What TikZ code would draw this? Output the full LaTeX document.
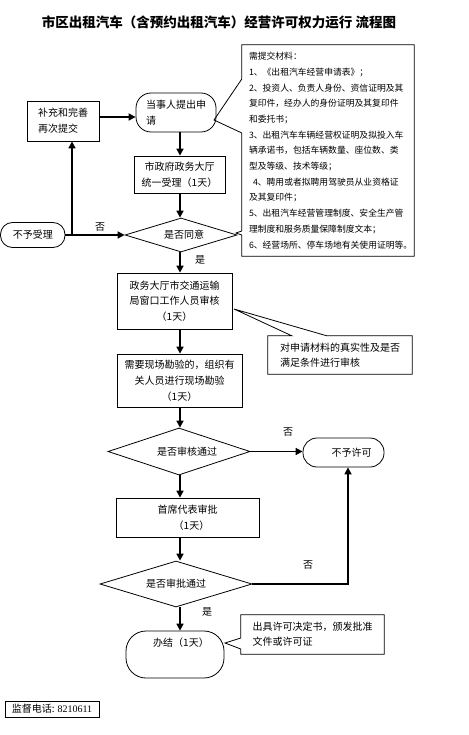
\documentclass[tikz,border=0pt]{standalone}
\usepackage{fontspec}
\newfontfamily\cjk{Noto Sans CJK SC}
\newfontfamily\tnr{Liberation Serif}
\usetikzlibrary{shapes.geometric,arrows.meta}
\newcommand{\zbox}[1]{\smash{\raisebox{-3.6pt}{\makebox[0pt]{#1}}}}
\begin{document}
\begin{tikzpicture}[x=1pt,y=-1pt,
  every node/.style={font=\cjk\fontsize{10}{16}\selectfont, inner sep=0pt},
  thinline/.style={line width=0.8pt},
  proc/.style={draw, thinline, rectangle, align=center},
  term/.style={draw, thinline, rectangle, rounded corners=13pt, align=center},
  decision/.style={draw, thinline, diamond, inner sep=0pt},
  callout/.style={rectangle, align=left},
  arr/.style={line width=1.6pt, -{Triangle[length=7pt,width=7pt]}},
  lbl/.style={font=\cjk\fontsize{10}{12}\selectfont}
]
\useasboundingbox (0,0) rectangle (468,735);
\coordinate (col) at (180,0);

% title
\node[font=\cjk\bfseries\fontsize{13.5}{16}\selectfont] (title) at (219,22)
  {市区出租汽车（含预约出租汽车）经营许可权力运行 流程图};

% main flow
\node[term, minimum width=80pt, minimum height=39pt, rounded corners=15pt] (apply) at (176,112.5) {当事人提出申\\请\hspace*{50pt}};
\node[proc, minimum width=72pt, minimum height=40pt] (supp) at (63,121) {补充和完善\\再次提交\hspace*{10pt}};
\node[proc, minimum width=91pt, minimum height=37pt] (accept) at (179.5,174.5) {市政府政务大厅\\统一受理（1天）};
\node[decision, minimum width=112pt, minimum height=34pt] (d1) at (181,235) {\zbox{\hspace*{6pt}是否同意}};
\node[term, minimum width=64.5pt, minimum height=25pt, rounded corners=12pt] (reject1) at (32.75,235) {不予受理};
\node[proc, minimum width=115pt, minimum height=56pt, font=\cjk\fontsize{10}{15.5}\selectfont] (review) at (174.5,301) {政务大厅市交通运输\\局窗口工作人员审核\\（1天）};
\node[proc, minimum width=125pt, minimum height=53pt] (site) at (179.5,380.5) {需要现场勘验的，组织有\\关人员进行现场勘验\hspace*{10pt}\\（1天）};
\node[decision, minimum width=142pt, minimum height=47pt] (d2) at (179,451.5) {\zbox{\hspace*{16pt}是否审核通过}};
\node[term, minimum width=81pt, minimum height=29pt, rounded corners=14pt] (deny) at (343.5,452.5) {\hspace*{16pt}不予许可};
\node[proc, minimum width=143pt, minimum height=39pt] (chief) at (187.5,517.5) {首席代表审批\\\hspace*{8pt}（1天）};
\node[decision, minimum width=152pt, minimum height=46pt] (d3) at (176,584) {\zbox{是否审批通过}};
\node[term, minimum width=98pt, minimum height=47pt, rounded corners=20pt] (done) at (175,654.5) {\hspace*{12pt}办结（1天）\\[8pt]};
\node[proc, minimum width=94pt, minimum height=16pt] (phone) at (52,709) {监督电话: {\tnr 8210611}};

% callouts
\node[callout, text width=158pt, minimum width=172pt, minimum height=211pt,
      font=\cjk\fontsize{8.8}{15.7}\selectfont] (note1) at (328,150.5) {%
需提交材料：\\
1、《出租汽车经营申请表》；\\
2、投资人、负责人身份、资信证明及其\\
复印件，经办人的身份证明及其复印件\\
和委托书；\\
3、出租汽车车辆经营权证明及拟投入车\\
辆承诺书，包括车辆数量、座位数、类\\
型及等级、技术等级；\\
\hspace*{4pt}4、聘用或者拟聘用驾驶员从业资格证\\
及其复印件；\\
5、出租汽车经营管理制度、安全生产管\\
理制度和服务质量保障制度文本；\\
6、经营场所、停车场地有关使用证明等。};
\node[callout, text width=120pt, minimum width=144pt, minimum height=38pt, font=\cjk\fontsize{10}{15}\selectfont] (note2) at (340,355) {对申请材料的真实性及是否\\满足条件进行审核};
\node[callout, text width=120pt, minimum width=143pt, minimum height=39pt, font=\cjk\fontsize{10}{15}\selectfont] (note3) at (312.5,634.5) {出具许可决定书，颁发批准\\文件或许可证};

\coordinate (p1) at (214,120);
\coordinate (p1b) at (236,233);
\coordinate (p2) at (234,309);
\coordinate (p3) at (225,643);

\draw[thinline] (note1.north west) -- (note1.north east) -- (note1.south east) -- (note1.south west)
  -- ([yshift=-84.5pt]note1.west) -- (p1b) -- ([yshift=-80.5pt]note1.west)
  -- ([yshift=17.5pt]note1.west) -- (p1) -- ([yshift=71.5pt]note1.west) -- cycle;
\draw[thinline] (note2.north west) -- ([xshift=24pt]note2.north west) -- (p2)
  -- ([xshift=59pt]note2.north west) -- (note2.north east) -- (note2.south east)
  -- (note2.south west) -- cycle;
\draw[thinline] (note3.north west) -- (note3.north east) -- (note3.south east) -- (note3.south west)
  -- ([yshift=-14.5pt]note3.west) -- (p3) -- ([yshift=-3.5pt]note3.west) -- cycle;

% connectors
\coordinate (a1) at ([yshift=4pt]supp.east);
\draw[arr] (a1) -- (a1 -| apply.west);
\draw[arr] (apply.south -| col) -- (accept.north -| col);
\draw[arr] (accept.south -| col) -- (d1.north -| col);
\draw[arr] (reject1.east) -- (reject1.east -| d1.west);
\coordinate (j1) at (72,235);
\draw[arr] (j1) -- (j1 |- supp.south);
\draw[arr] (d1.south -| col) -- (review.north -| col);
\draw[arr] (review.south -| col) -- (site.north -| col);
\draw[arr] (site.south -| col) -- (d2.north -| col);
\draw[arr] (d2.east) -- (d2.east -| deny.west);
\draw[arr] (d2.south -| col) -- (chief.north -| col);
\draw[arr] (chief.south -| col) -- (d3.north -| col);
\coordinate (j2) at (348,0);
\draw[arr] (d3.east) -- (d3.east -| j2) -- (j2 |- deny.south);
\draw[arr] (d3.south -| col) -- (done.north -| col);

% labels
\node[lbl] (no1) at (100,227) {否};
\node[lbl] (yes1) at (200,260) {是};
\node[lbl] (no2) at (288,432) {否};
\node[lbl] (no3) at (308,565) {否};
\node[lbl] (yes2) at (207,612) {是};
\end{tikzpicture}
\end{document}
